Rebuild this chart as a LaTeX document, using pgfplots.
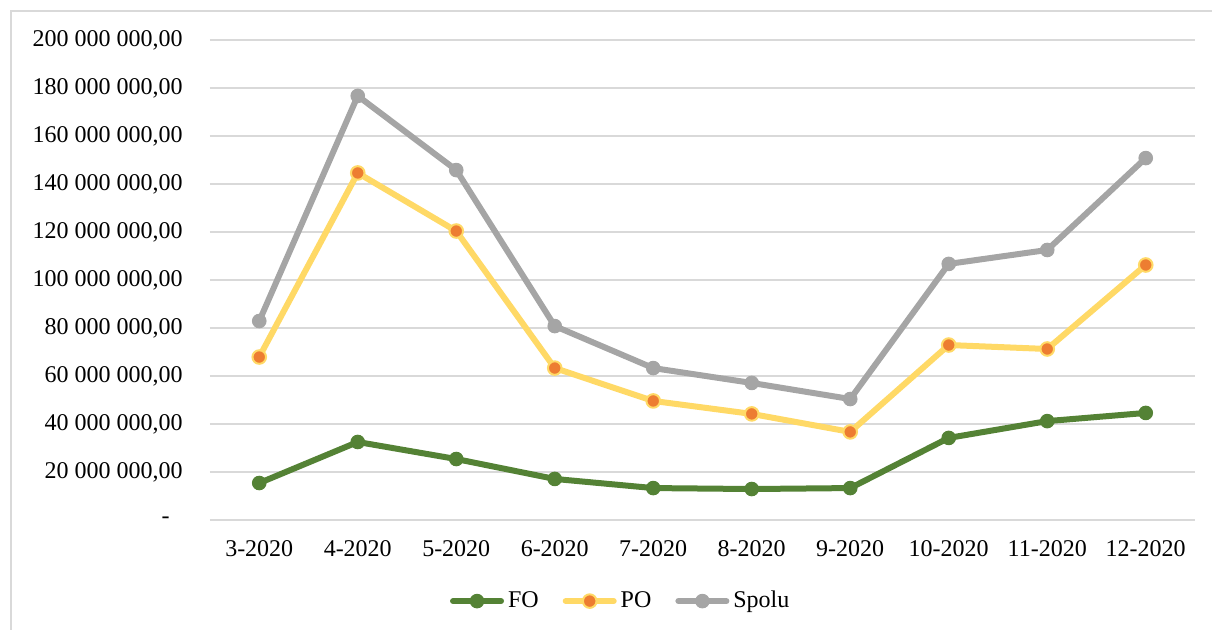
\documentclass[12pt,border=0pt]{standalone}
\usepackage{fontspec}
\setmainfont{Liberation Serif}
\usepackage{pgfplots}
\pgfplotsset{compat=1.18}
\definecolor{cFO}{HTML}{548235}
\definecolor{cPO}{HTML}{FFD966}
\definecolor{cPOm}{HTML}{ED7D31}
\definecolor{cSp}{HTML}{A5A5A5}
\definecolor{gridc}{HTML}{D9D9D9}
\begin{document}
\begin{tikzpicture}[x=1pt,y=1pt]
\useasboundingbox (0,0) rectangle (606,315);
\draw[color=gridc, line width=0.75pt] (5.5,0) -- (5.5,309.5) -- (606,309.5);
\begin{axis}[
  at={(105pt,55pt)}, anchor=south west,
  scale only axis, width=492.5pt, height=240pt,
  xmin=-0.5, xmax=9.5, ymin=0, ymax=200,
  xtick={0,1,2,3,4,5,6,7,8,9},
  xticklabels={3-2020,4-2020,5-2020,6-2020,7-2020,8-2020,9-2020,10-2020,11-2020,12-2020},
  ytick={0,20,40,60,80,100,120,140,160,180,200},
  yticklabels={{-\rule{6.5pt}{0pt}},{20 000 000,00},{40 000 000,00},{60 000 000,00},{80 000 000,00},{100 000 000,00},{120 000 000,00},{140 000 000,00},{160 000 000,00},{180 000 000,00},{200 000 000,00}},
  axis line style={draw=none},
  major tick length=0pt,
  ymajorgrids, grid style={gridc, line width=0.75pt},
  yticklabel style={inner sep=0pt, xshift=-13.5pt},
  xticklabel style={inner sep=0pt, anchor=north, yshift=-10pt},
  clip=false,
  legend columns=3,
  legend style={draw=none, fill=none, at={(axis description cs:0.418,-0.169)}, anchor=center,
    /tikz/every even column/.append style={column sep=10pt},
    nodes={inner sep=2pt}},
  legend image code/.code={\draw[mark repeat=2,mark phase=2] plot coordinates {(0pt,0pt)(12pt,0pt)(24pt,0pt)};},
  every axis plot/.append style={line width=3pt, line join=round, line cap=round, mark=*, mark size=3.4pt},
]
\addplot[color=cFO, mark options={fill=cFO, draw=cFO, line width=0.5pt}] coordinates {
(0,15.4) (1,32.5) (2,25.4) (3,17.1) (4,13.3) (5,12.9) (6,13.3) (7,34.2) (8,41.2) (9,44.6)};
\addlegendentry{FO}
\addplot[color=cPO, mark options={fill=cPOm, draw=cPO, line width=1pt}] coordinates {
(0,67.9) (1,144.6) (2,120.4) (3,63.3) (4,49.6) (5,44.2) (6,36.7) (7,72.9) (8,71.25) (9,106.25)};
\addlegendentry{PO}
\addplot[color=cSp, mark options={fill=cSp, draw=cSp, line width=0.5pt}] coordinates {
(0,82.9) (1,176.7) (2,145.8) (3,80.8) (4,63.3) (5,57.1) (6,50.4) (7,106.7) (8,112.5) (9,150.8)};
\addlegendentry{Spolu}
\end{axis}
\end{tikzpicture}
\end{document}
